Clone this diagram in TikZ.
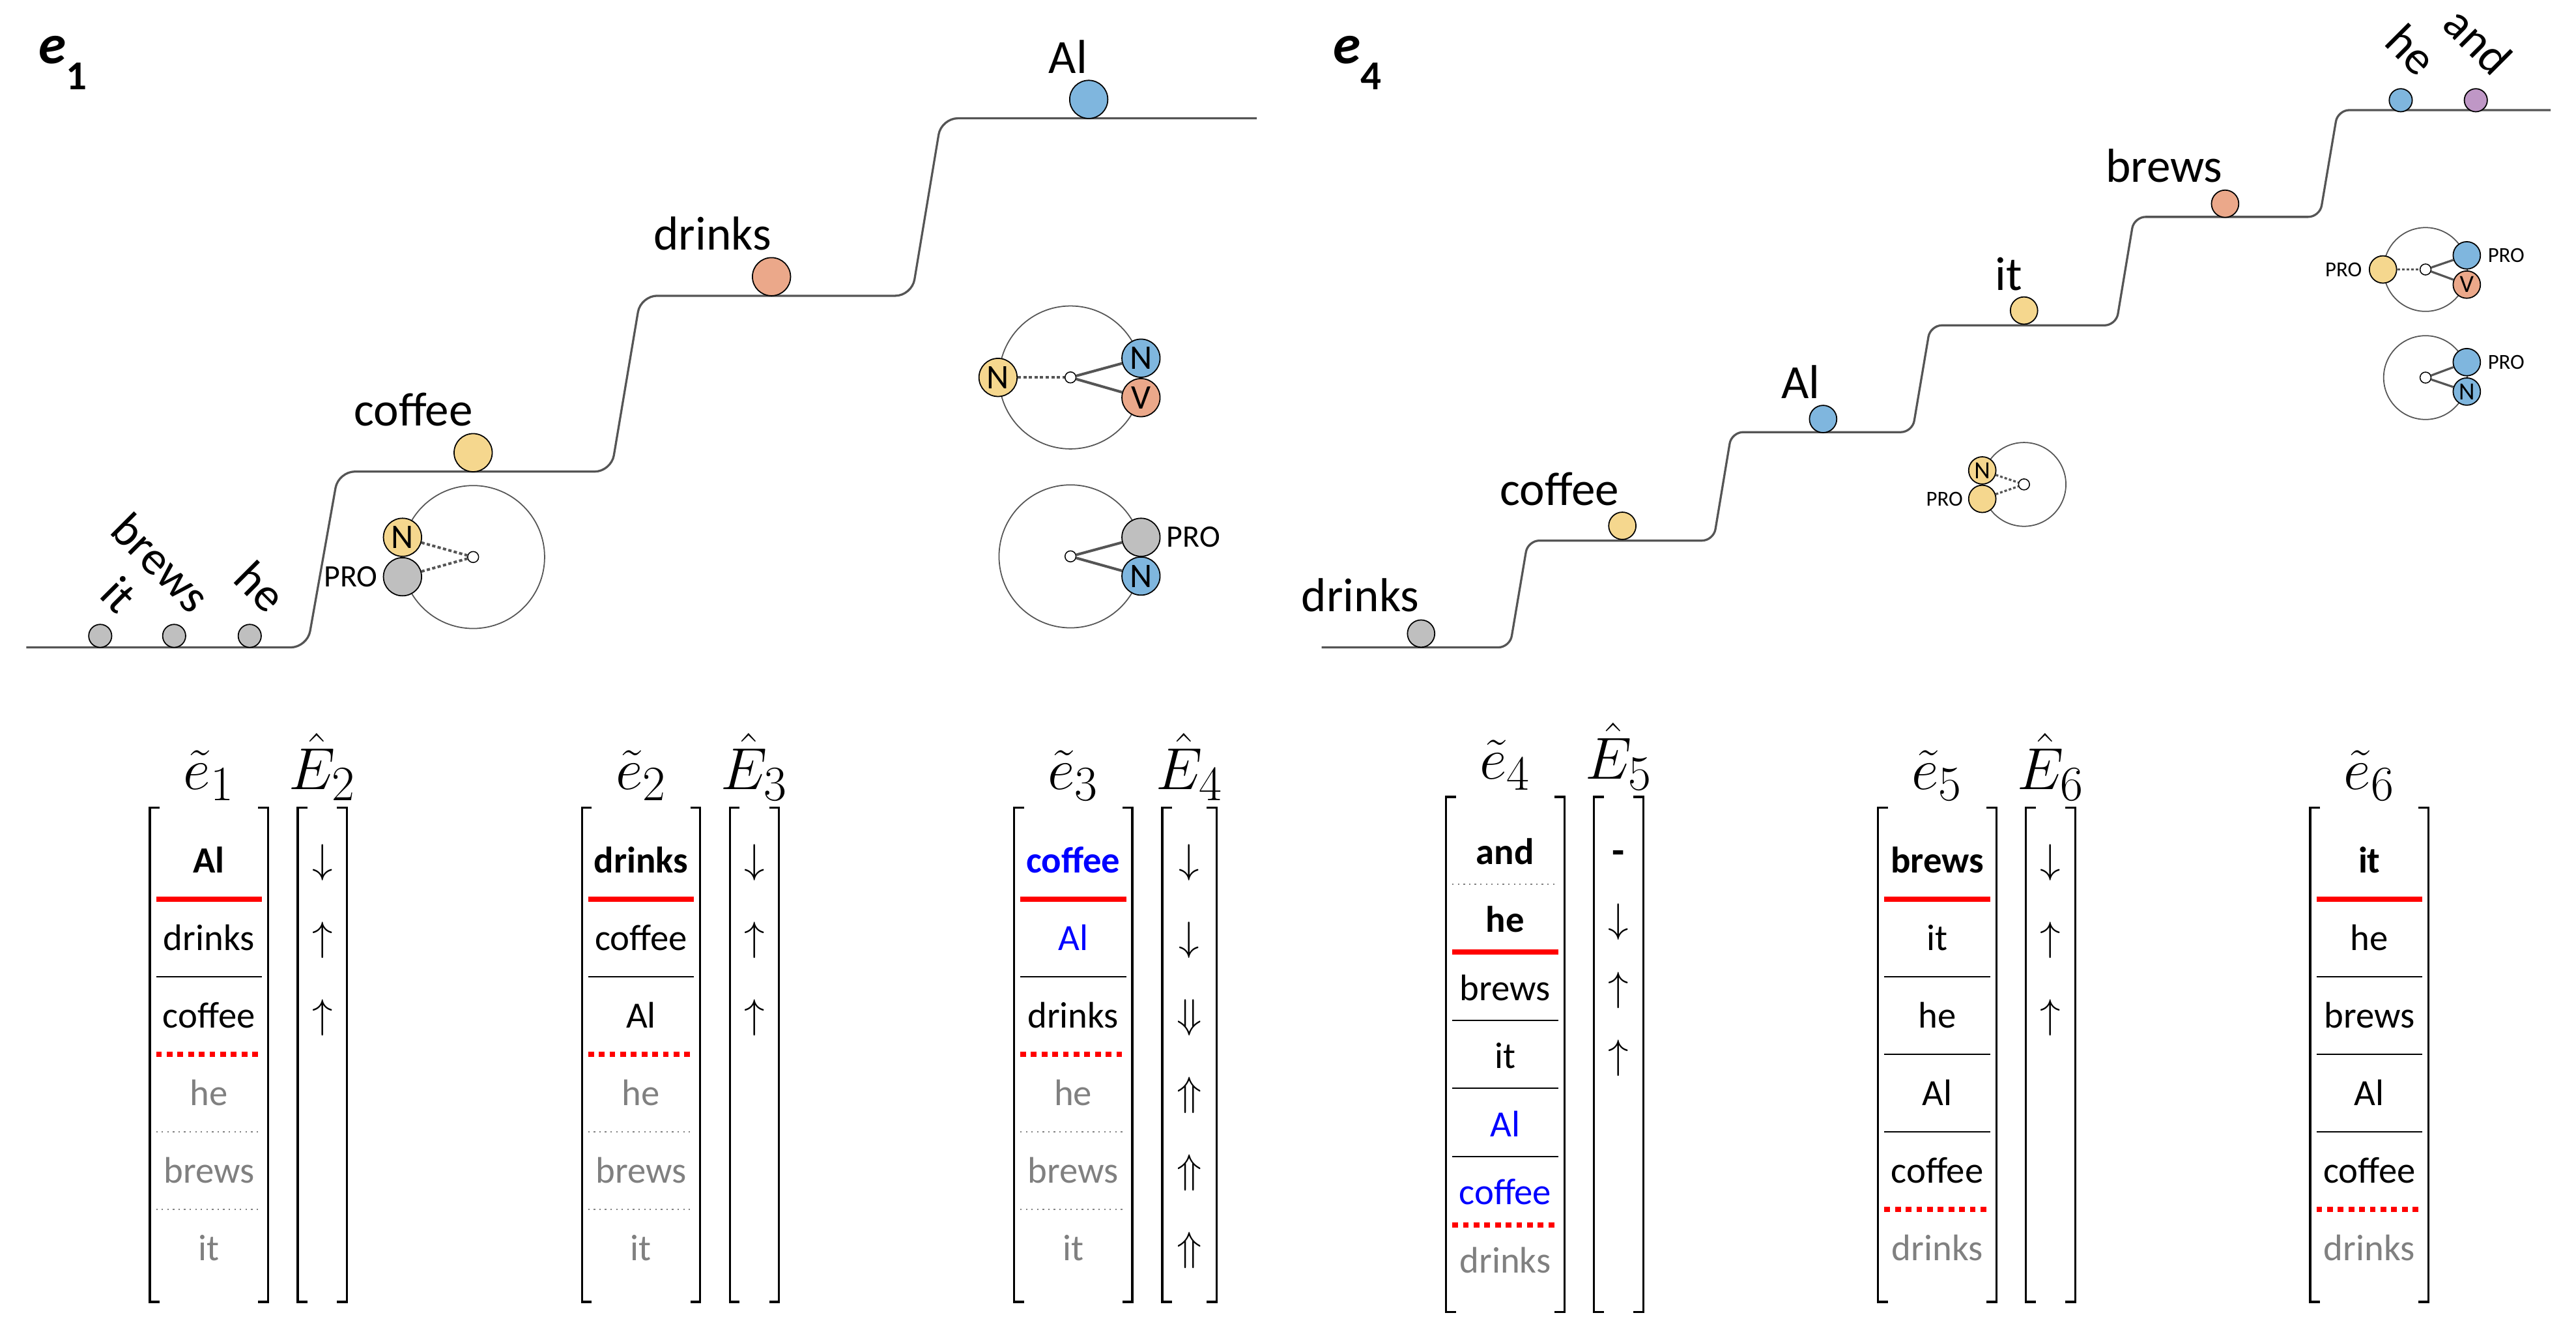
\documentclass[tikz,border=0pt]{standalone}
\usepackage[no-math]{fontspec}
\setmainfont{Carlito}
\usetikzlibrary{positioning}

\definecolor{ballyellow}{HTML}{F5D78E}
\definecolor{ballblue}{HTML}{7FB6DE}
\definecolor{ballorange}{HTML}{EBA88A}
\definecolor{ballpurple}{HTML}{BF97C6}
\definecolor{ballgray}{HTML}{BFBFBF}
\definecolor{stepgray}{HTML}{555555}
\definecolor{wordgray}{HTML}{808080}

\begin{document}
\begin{tikzpicture}[x=1pt, y=-1pt,
        stepline/.style={draw=stepgray, line width=1.3pt, rounded corners=10pt},
        ball/.style={circle, draw=black, line width=0.7pt, inner sep=0pt, minimum size=23.2pt, font=\fontsize{21}{21}\selectfont},
        smallball/.style={ball, minimum size=16.6pt, font=\fontsize{15}{15}\selectfont},
        tinyball/.style={ball, minimum size=14pt},
        ring/.style={circle, draw=stepgray, line width=0.7pt, inner sep=0pt, minimum size=87pt},
        smallring/.style={ring, minimum size=51pt},
        hub/.style={circle, draw=black, fill=white, line width=0.6pt, inner sep=0pt, minimum size=6.7pt},
        tie/.style={draw=stepgray, line width=1.6pt},
        loosetie/.style={tie, dash pattern=on 2pt off 1.4pt},
        smalltie/.style={draw=stepgray, line width=1.3pt},
        smallloose/.style={smalltie, dash pattern=on 1.6pt off 1.2pt},
        word/.style={font=\fontsize{29}{29}\selectfont, inner sep=0pt, anchor=base east},
        slantword/.style={font=\fontsize{29}{29}\selectfont, inner sep=0pt, rotate=-45, anchor=south east},
        prolabel/.style={font=\fontsize{19}{19}\selectfont, inner sep=0pt},
        smallpro/.style={font=\fontsize{13}{13}\selectfont, inner sep=0pt},
        paneltitle/.style={font=\fontsize{34}{34}\selectfont\bfseries\itshape, inner sep=0pt, anchor=base west},
        panelsub/.style={font=\fontsize{25}{25}\selectfont\bfseries, inner sep=0pt, anchor=base west},
        veclabel/.style={font=\fontsize{24.88}{24.88}\selectfont, inner sep=0pt, anchor=base},
        entry/.style={font=\fontsize{22.5}{22.5}\selectfont, inner sep=0pt, anchor=base},
        topentry/.style={entry, font=\fontsize{22.5}{22.5}\selectfont\bfseries},
        dirmark/.style={font=\fontsize{24.88}{24.88}\selectfont, inner sep=0pt, anchor=base},
        bracket/.style={draw=black, line width=1.3pt},
        headrule/.style={draw=red, line width=3pt},
        cutrule/.style={draw=red, line width=3pt, dash pattern=on 3.5pt off 3pt},
        rowrule/.style={draw=black, line width=0.8pt},
        faintrule/.style={draw=wordgray, line width=0.8pt, dash pattern=on 0.9pt off 2.5pt}
    ]
        \useasboundingbox (0,0) rectangle (1568,816);

        % Panel e1: staircase
        \node[paneltitle] (titleA) at (23.5,38.5) {e};
        \node[panelsub] (titleAsub) at (40,54.4) {1};
        \draw[stepline] (16,394) -- (187,394) -- (206,287) -- (372,287) -- (390,180) -- (555,180) -- (573,72) -- (765,72);

        \node[tinyball, fill=ballgray] (itA) at (61,387) {};
        \node[tinyball, fill=ballgray] (brewsA) at (106,387) {};
        \node[tinyball, fill=ballgray] (heA) at (152,387) {};
        \node[slantword] (itAtxt) at ([shift={(10,-12)}]itA.center) {it};
        \node[slantword] (brewsAtxt) at ([shift={(10,-12)}]brewsA.center) {brews};
        \node[slantword] (heAtxt) at ([shift={(10,-12)}]heA.center) {he};
        \node[ball, fill=ballyellow] (coffeeA) at (288,275.5) {};
        \node[word] (coffeeAtxt) at (288,259) {coffee};
        \node[ball, fill=ballorange] (drinksA) at (469.6,168.4) {};
        \node[word] (drinksAtxt) at (469.6,152) {drinks};
        \node[ball, fill=ballblue] (AlA) at (662.7,60.5) {};
        \node[word] (AlAtxt) at (662,44.6) {Al};

        % Panel e1: graphs
        \node[ring] (ringA) at (288,339) {};
        \node[hub] (hubA) at (288,339) {};
        \node[ball, fill=ballyellow] (gAn) at (245,327) {N};
        \node[ball, fill=ballgray] (gApro) at (245,351) {};
        \node[prolabel, left=3pt of gApro] (gAprotxt) {PRO};
        \draw[loosetie] (gAn) -- (hubA);
        \draw[loosetie] (gApro) -- (hubA);

        \node[ring] (ringB) at (651.6,229.7) {};
        \node[hub] (hubB) at (651.6,229.7) {};
        \node[ball, fill=ballyellow] (gBn) at (607.5,229.7) {N};
        \node[ball, fill=ballblue] (gBnb) at (694.5,218) {N};
        \node[ball, fill=ballorange] (gBv) at (694.5,242) {V};
        \draw[loosetie] (gBn) -- (hubB);
        \draw[tie] (hubB) -- (gBnb);
        \draw[tie] (hubB) -- (gBv);

        \node[ring] (ringC) at (651.6,338.6) {};
        \node[hub] (hubC) at (651.6,338.6) {};
        \node[ball, fill=ballgray] (gCpro) at (694.5,327) {};
        \node[ball, fill=ballblue] (gCn) at (694.5,350.6) {N};
        \node[prolabel, right=3.5pt of gCpro] (gCprotxt) {PRO};
        \draw[tie] (hubC) -- (gCpro);
        \draw[tie] (hubC) -- (gCn);

        % Panel e4: staircase
        \node[paneltitle] (titleB) at (811.5,38.5) {e};
        \node[panelsub] (titleBsub) at (828,54.4) {4};
        \draw[stepline, rounded corners=7pt] (804.5,394) -- (919,394) -- (930,329) -- (1043,329) -- (1054,263) -- (1164,263) -- (1175,198) -- (1288,198) -- (1299,132) -- (1412,132) -- (1423,67) -- (1552.6,67);

        \node[smallball, fill=ballgray] (drinksB) at (865,385.6) {};
        \node[word] (drinksBtxt) at (864,372) {drinks};
        \node[smallball, fill=ballyellow] (coffeeB) at (987.5,320) {};
        \node[word] (coffeeBtxt) at (985.6,307.6) {coffee};
        \node[smallball, fill=ballblue] (AlB) at (1109.7,255) {};
        \node[word] (AlBtxt) at (1108,242.5) {Al};
        \node[smallball, fill=ballyellow] (itB) at (1232,189) {};
        \node[word] (itBtxt) at (1231,176.7) {it};
        \node[smallball, fill=ballorange] (brewsB) at (1354.4,124) {};
        \node[word] (brewsBtxt) at (1353,111) {brews};
        \node[tinyball, fill=ballblue] (heB) at (1461.3,61) {};
        \node[tinyball, fill=ballpurple] (andB) at (1507,61) {};
        \node[slantword] (heBtxt) at ([shift={(10,-13)}]heB.center) {he};
        \node[slantword] (andBtxt) at ([shift={(10,-13)}]andB.center) {and};

        % Panel e4: graphs
        \node[smallring] (ringD) at (1232,294.8) {};
        \node[hub] (hubD) at (1232,294.8) {};
        \node[smallball, fill=ballyellow] (gDn) at (1206.6,286.3) {N};
        \node[smallball, fill=ballyellow] (gDpro) at (1206.6,303.6) {};
        \node[smallpro, left=3pt of gDpro] (gDprotxt) {PRO};
        \draw[smallloose] (gDn) -- (hubD);
        \draw[smallloose] (gDpro) -- (hubD);

        \node[smallring] (ringE) at (1476.4,164) {};
        \node[hub] (hubE) at (1476.4,164) {};
        \node[smallball, fill=ballyellow] (gEpro) at (1450.5,164) {};
        \node[smallpro, left=4pt of gEpro] (gEprotxt) {PRO};
        \node[smallball, fill=ballblue] (gEb) at (1501.5,155.4) {};
        \node[smallpro, right=4pt of gEb] (gEbtxt) {PRO};
        \node[smallball, fill=ballorange] (gEv) at (1501.5,173.2) {V};
        \draw[smallloose] (gEpro) -- (hubE);
        \draw[smalltie] (hubE) -- (gEb);
        \draw[smalltie] (hubE) -- (gEv);

        \node[smallring] (ringF) at (1476.4,229.8) {};
        \node[hub] (hubF) at (1476.4,229.8) {};
        \node[smallball, fill=ballblue] (gFb) at (1501.5,220.4) {};
        \node[smallpro, right=4pt of gFb] (gFbtxt) {PRO};
        \node[smallball, fill=ballblue] (gFn) at (1501.5,238.3) {N};
        \draw[smalltie] (hubF) -- (gFb);
        \draw[smalltie] (hubF) -- (gFn);

        % Vectors e~1 and E^2
        \begin{scope}[shift={(91.2,0)}]
            \node[veclabel] (labA) at (36,480.4) {\scalebox{1.45}{$\tilde{e}_1$}};
            \node[veclabel] (labEA) at (105,480.4) {\scalebox{1.45}{$\hat{E}_2$}};
            \draw[bracket] (6,491.4) -| (0,792.3) -- (6,792.3);
            \draw[bracket] (66,491.4) -| (72,792.3) -- (66,792.3);
            \draw[bracket] (96,491.4) -| (90,792.3) -- (96,792.3);
            \draw[bracket] (114,491.4) -| (120,792.3) -- (114,792.3);
            \node[topentry] (wA0) at (36,531.2) {Al};
            \node[entry] (wA1) at (36,578.4) {drinks};
            \node[entry] (wA2) at (36,625.6) {coffee};
            \node[entry, text=wordgray] (wA3) at (36,672.8) {he};
            \node[entry, text=wordgray] (wA4) at (36,720) {brews};
            \node[entry, text=wordgray] (wA5) at (36,767.2) {it};
            \draw[headrule] (3.8,547.2) -- (68.3,547.2);
            \draw[rowrule] (3.8,594.4) -- (68.3,594.4);
            \draw[cutrule] (3.8,641.6) -- (68.3,641.6);
            \draw[faintrule] (3.8,688.8) -- (68.3,688.8);
            \draw[faintrule] (3.8,736) -- (68.3,736);
            \node[dirmark] (dA0) at (105,531.2) {$\downarrow$};
            \node[dirmark] (dA1) at (105,578.4) {$\uparrow$};
            \node[dirmark] (dA2) at (105,625.6) {$\uparrow$};
        \end{scope}

        % Vectors e~2 and E^3
        \begin{scope}[shift={(354.2,0)}]
            \node[veclabel] (labB) at (36,480.4) {\scalebox{1.45}{$\tilde{e}_2$}};
            \node[veclabel] (labEB) at (105,480.4) {\scalebox{1.45}{$\hat{E}_3$}};
            \draw[bracket] (6,491.4) -| (0,792.3) -- (6,792.3);
            \draw[bracket] (66,491.4) -| (72,792.3) -- (66,792.3);
            \draw[bracket] (96,491.4) -| (90,792.3) -- (96,792.3);
            \draw[bracket] (114,491.4) -| (120,792.3) -- (114,792.3);
            \node[topentry] (wB0) at (36,531.2) {drinks};
            \node[entry] (wB1) at (36,578.4) {coffee};
            \node[entry] (wB2) at (36,625.6) {Al};
            \node[entry, text=wordgray] (wB3) at (36,672.8) {he};
            \node[entry, text=wordgray] (wB4) at (36,720) {brews};
            \node[entry, text=wordgray] (wB5) at (36,767.2) {it};
            \draw[headrule] (3.8,547.2) -- (68.3,547.2);
            \draw[rowrule] (3.8,594.4) -- (68.3,594.4);
            \draw[cutrule] (3.8,641.6) -- (68.3,641.6);
            \draw[faintrule] (3.8,688.8) -- (68.3,688.8);
            \draw[faintrule] (3.8,736) -- (68.3,736);
            \node[dirmark] (dB0) at (105,531.2) {$\downarrow$};
            \node[dirmark] (dB1) at (105,578.4) {$\uparrow$};
            \node[dirmark] (dB2) at (105,625.6) {$\uparrow$};
        \end{scope}

        % Vectors e~3 and E^4
        \begin{scope}[shift={(617.2,0)}]
            \node[veclabel] (labC) at (36,480.4) {\scalebox{1.45}{$\tilde{e}_3$}};
            \node[veclabel] (labEC) at (106.7,480.4) {\scalebox{1.45}{$\hat{E}_4$}};
            \draw[bracket] (6,491.4) -| (0,792.3) -- (6,792.3);
            \draw[bracket] (66,491.4) -| (72,792.3) -- (66,792.3);
            \draw[bracket] (96.3,491.4) -| (90.3,792.3) -- (96.3,792.3);
            \draw[bracket] (117.4,491.4) -| (123.4,792.3) -- (117.4,792.3);
            \node[topentry, text=blue] (wC0) at (36,531.2) {coffee};
            \node[entry, text=blue] (wC1) at (36,578.4) {Al};
            \node[entry] (wC2) at (36,625.6) {drinks};
            \node[entry, text=wordgray] (wC3) at (36,672.8) {he};
            \node[entry, text=wordgray] (wC4) at (36,720) {brews};
            \node[entry, text=wordgray] (wC5) at (36,767.2) {it};
            \draw[headrule] (3.8,547.2) -- (68.3,547.2);
            \draw[rowrule] (3.8,594.4) -- (68.3,594.4);
            \draw[cutrule] (3.8,641.6) -- (68.3,641.6);
            \draw[faintrule] (3.8,688.8) -- (68.3,688.8);
            \draw[faintrule] (3.8,736) -- (68.3,736);
            \node[dirmark] (dC0) at (106.7,531.2) {$\downarrow$};
            \node[dirmark] (dC1) at (106.7,578.4) {$\downarrow$};
            \node[dirmark] (dC2) at (106.7,625.6) {$\Downarrow$};
            \node[dirmark] (dC3) at (106.7,672.8) {$\Uparrow$};
            \node[dirmark] (dC4) at (106.7,720) {$\Uparrow$};
            \node[dirmark] (dC5) at (106.7,767.2) {$\Uparrow$};
        \end{scope}

        % Vectors e~4 and E^5
        \begin{scope}[shift={(880.2,0)}]
            \node[veclabel] (labD) at (36,474) {\scalebox{1.45}{$\tilde{e}_4$}};
            \node[veclabel] (labED) at (105,474) {\scalebox{1.45}{$\hat{E}_5$}};
            \draw[bracket] (6,485) -| (0,798.6) -- (6,798.6);
            \draw[bracket] (66,485) -| (72,798.6) -- (66,798.6);
            \draw[bracket] (96,485) -| (90,798.6) -- (96,798.6);
            \draw[bracket] (114,485) -| (120,798.6) -- (114,798.6);
            \node[topentry] (wD0) at (36,526) {and};
            \node[topentry] (wD1) at (36,567.4) {he};
            \node[entry] (wD2) at (36,608.9) {brews};
            \node[entry] (wD3) at (36,650.3) {it};
            \node[entry, text=blue] (wD4) at (36,691.8) {Al};
            \node[entry, text=blue] (wD5) at (36,733.2) {coffee};
            \node[entry, text=wordgray] (wD6) at (36,774.7) {drinks};
            \draw[faintrule] (3.8,538) -- (68.3,538);
            \draw[headrule] (3.8,579.3) -- (68.3,579.3);
            \draw[rowrule] (3.8,621) -- (68.3,621);
            \draw[rowrule] (3.8,662.2) -- (68.3,662.2);
            \draw[rowrule] (3.8,703.8) -- (68.3,703.8);
            \draw[cutrule] (3.8,745.5) -- (68.3,745.5);
            \node[dirmark] (dD0) at (105,526) {\bfseries -};
            \node[dirmark] (dD1) at (105,567.4) {$\downarrow$};
            \node[dirmark] (dD2) at (105,608.9) {$\uparrow$};
            \node[dirmark] (dD3) at (105,650.3) {$\uparrow$};
        \end{scope}

        % Vectors e~5 and E^6
        \begin{scope}[shift={(1143.2,0)}]
            \node[veclabel] (labE) at (36,480.4) {\scalebox{1.45}{$\tilde{e}_5$}};
            \node[veclabel] (labEE) at (105,480.4) {\scalebox{1.45}{$\hat{E}_6$}};
            \draw[bracket] (6,491.4) -| (0,792.3) -- (6,792.3);
            \draw[bracket] (66,491.4) -| (72,792.3) -- (66,792.3);
            \draw[bracket] (96,491.4) -| (90,792.3) -- (96,792.3);
            \draw[bracket] (114,491.4) -| (120,792.3) -- (114,792.3);
            \node[topentry] (wE0) at (36,531.2) {brews};
            \node[entry] (wE1) at (36,578.4) {it};
            \node[entry] (wE2) at (36,625.6) {he};
            \node[entry] (wE3) at (36,672.8) {Al};
            \node[entry] (wE4) at (36,720) {coffee};
            \node[entry, text=wordgray] (wE5) at (36,767.2) {drinks};
            \draw[headrule] (3.8,547.2) -- (68.3,547.2);
            \draw[rowrule] (3.8,594.4) -- (68.3,594.4);
            \draw[rowrule] (3.8,641.6) -- (68.3,641.6);
            \draw[rowrule] (3.8,688.8) -- (68.3,688.8);
            \draw[cutrule] (3.8,736) -- (68.3,736);
            \node[dirmark] (dE0) at (105,531.2) {$\downarrow$};
            \node[dirmark] (dE1) at (105,578.4) {$\uparrow$};
            \node[dirmark] (dE2) at (105,625.6) {$\uparrow$};
        \end{scope}

        % Vector e~6
        \begin{scope}[shift={(1406.2,0)}]
            \node[veclabel] (labF) at (36,480.4) {\scalebox{1.45}{$\tilde{e}_6$}};
            \draw[bracket] (6,491.4) -| (0,792.3) -- (6,792.3);
            \draw[bracket] (66,491.4) -| (72,792.3) -- (66,792.3);
            \node[topentry] (wF0) at (36,531.2) {it};
            \node[entry] (wF1) at (36,578.4) {he};
            \node[entry] (wF2) at (36,625.6) {brews};
            \node[entry] (wF3) at (36,672.8) {Al};
            \node[entry] (wF4) at (36,720) {coffee};
            \node[entry, text=wordgray] (wF5) at (36,767.2) {drinks};
            \draw[headrule] (3.8,547.2) -- (68.3,547.2);
            \draw[rowrule] (3.8,594.4) -- (68.3,594.4);
            \draw[rowrule] (3.8,641.6) -- (68.3,641.6);
            \draw[rowrule] (3.8,688.8) -- (68.3,688.8);
            \draw[cutrule] (3.8,736) -- (68.3,736);
        \end{scope}
    \end{tikzpicture}
\end{document}
